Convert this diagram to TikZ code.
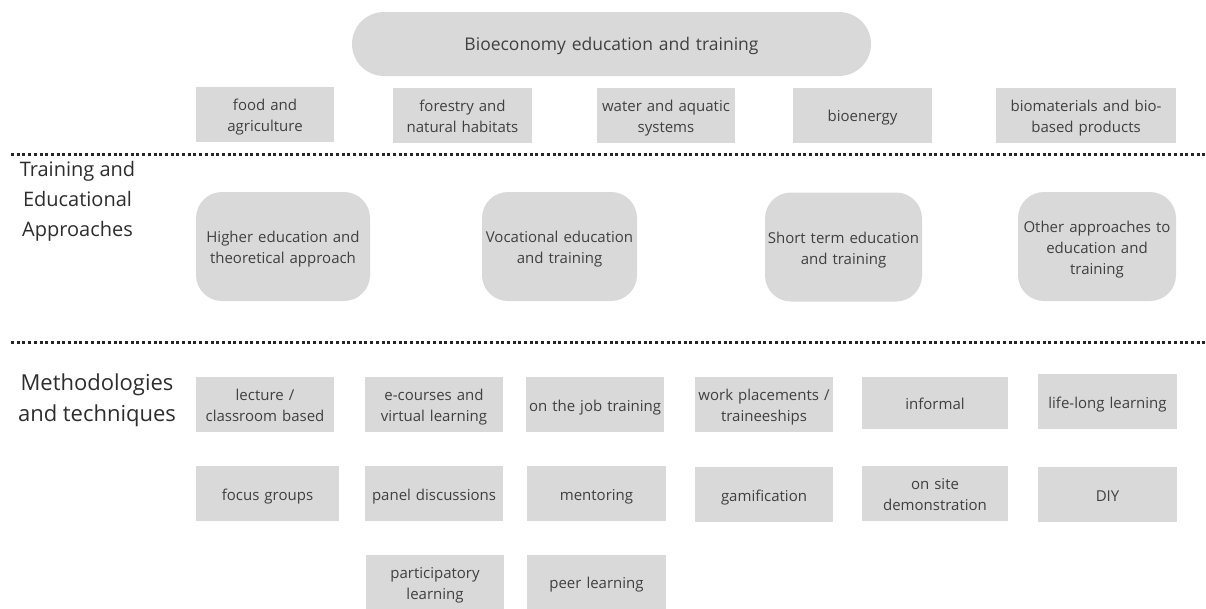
\documentclass[tikz,border=0pt]{standalone}
\usepackage{fontspec}
\setmainfont{Open Sans}
\usepackage{tikz}

\definecolor{boxgray}{RGB}{217,217,217}
\definecolor{labelgray}{RGB}{64,64,64}
\definecolor{sidegray}{RGB}{45,45,45}

\begin{document}
\begin{tikzpicture}[x=1pt, y=-1pt,
    topic/.style={fill=boxgray, inner sep=0pt, align=center, text=labelgray, text width=136pt,
        minimum height=55pt, minimum width=138pt, font=\fontsize{15}{21}\selectfont,
        execute at begin node={\rule{0pt}{17.4pt}},
        execute at end node={\rule[-3.6pt]{0pt}{0pt}}},
    approach/.style={topic, rounded corners=26pt, minimum height=109pt, text width=155pt},
    side/.style={align=center, text=sidegray, font=\fontsize{20}{30}\selectfont},
    sepline/.style={draw=black!85, line width=3pt, dash pattern=on 3pt off 2.7pt}]
        \useasboundingbox (0,0) rectangle (1206,608);

        % top level
        \draw (611.5, 44) node[topic, rounded corners=32pt, minimum width=519pt, minimum height=64pt,
            text width=500pt, font=\fontsize{17.5}{21}\selectfont](bio) {Bioeconomy education and training};
        \draw (265, 114.5) node[topic](food) {food and\\agriculture};
        \draw (462.5, 115) node[topic, minimum width=139pt](forest) {forestry and\\natural habitats};
        \draw (666, 115) node[topic](water) {water and aquatic\\systems};
        \draw (862.5, 115) node[topic, minimum width=139pt](energy) {bioenergy};
        \draw (1086, 115) node[topic, minimum width=180pt, text width=170pt](materials) {biomaterials and bio-\\based products};

        \coordinate (sepA1) at (11, 154);
        \coordinate (sepA2) at (1206, 154);
        \draw[sepline] (sepA1) -- (sepA2);

        % approaches
        \draw (77.5, 201) node[side](approaches) {Training and\\Educational\\Approaches};
        \draw (283, 246.5) node[approach, minimum width=174pt, text width=172pt](higher) {Higher education and\\theoretical approach};
        \draw (559.5, 246.5) node[approach, minimum width=155pt](vocational) {Vocational education\\and training};
        \draw (843.5, 247) node[approach, minimum width=157pt](short) {Short term education\\and training};
        \draw (1097, 246.5) node[approach, minimum width=158pt](other) {Other approaches to\\education and\\training};

        \coordinate (sepB1) at (11, 342);
        \coordinate (sepB2) at (1206, 342);
        \draw[sepline] (sepB1) -- (sepB2);

        % methodologies
        \draw (97, 400) node[side, font=\fontsize{22}{31}\selectfont](methods) {Methodologies\\and techniques};
        \draw (265, 404.5) node[topic](lecture) {lecture /\\classroom based};
        \draw (434, 404.5) node[topic](ecourse) {e-courses and\\virtual learning};
        \draw (595, 404.5) node[topic](job) {on the job training};
        \draw (764, 404) node[topic](work) {work placements /\\traineeships};
        \draw (935, 403) node[topic, minimum width=146pt, minimum height=52pt](informal) {informal};
        \draw (1107.5, 401.5) node[topic, minimum width=139pt](lifelong) {life-long learning};

        \draw (267.5, 493.5) node[topic, minimum width=143pt](focus) {focus groups};
        \draw (434, 493.5) node[topic](panel) {panel discussions};
        \draw (596.5, 493.5) node[topic, minimum width=139pt](mentor) {mentoring};
        \draw (764, 494.5) node[topic](gamif) {gamification};
        \draw (935, 493.5) node[topic, minimum width=146pt](onsite) {on site\\demonstration};
        \draw (1107.5, 494.5) node[topic, minimum width=139pt](diy) {DIY};

        \draw (435, 582) node[topic](particip) {participatory\\learning};
        \draw (596.5, 582) node[topic, minimum width=139pt](peer) {peer learning};
    \end{tikzpicture}
\end{document}
